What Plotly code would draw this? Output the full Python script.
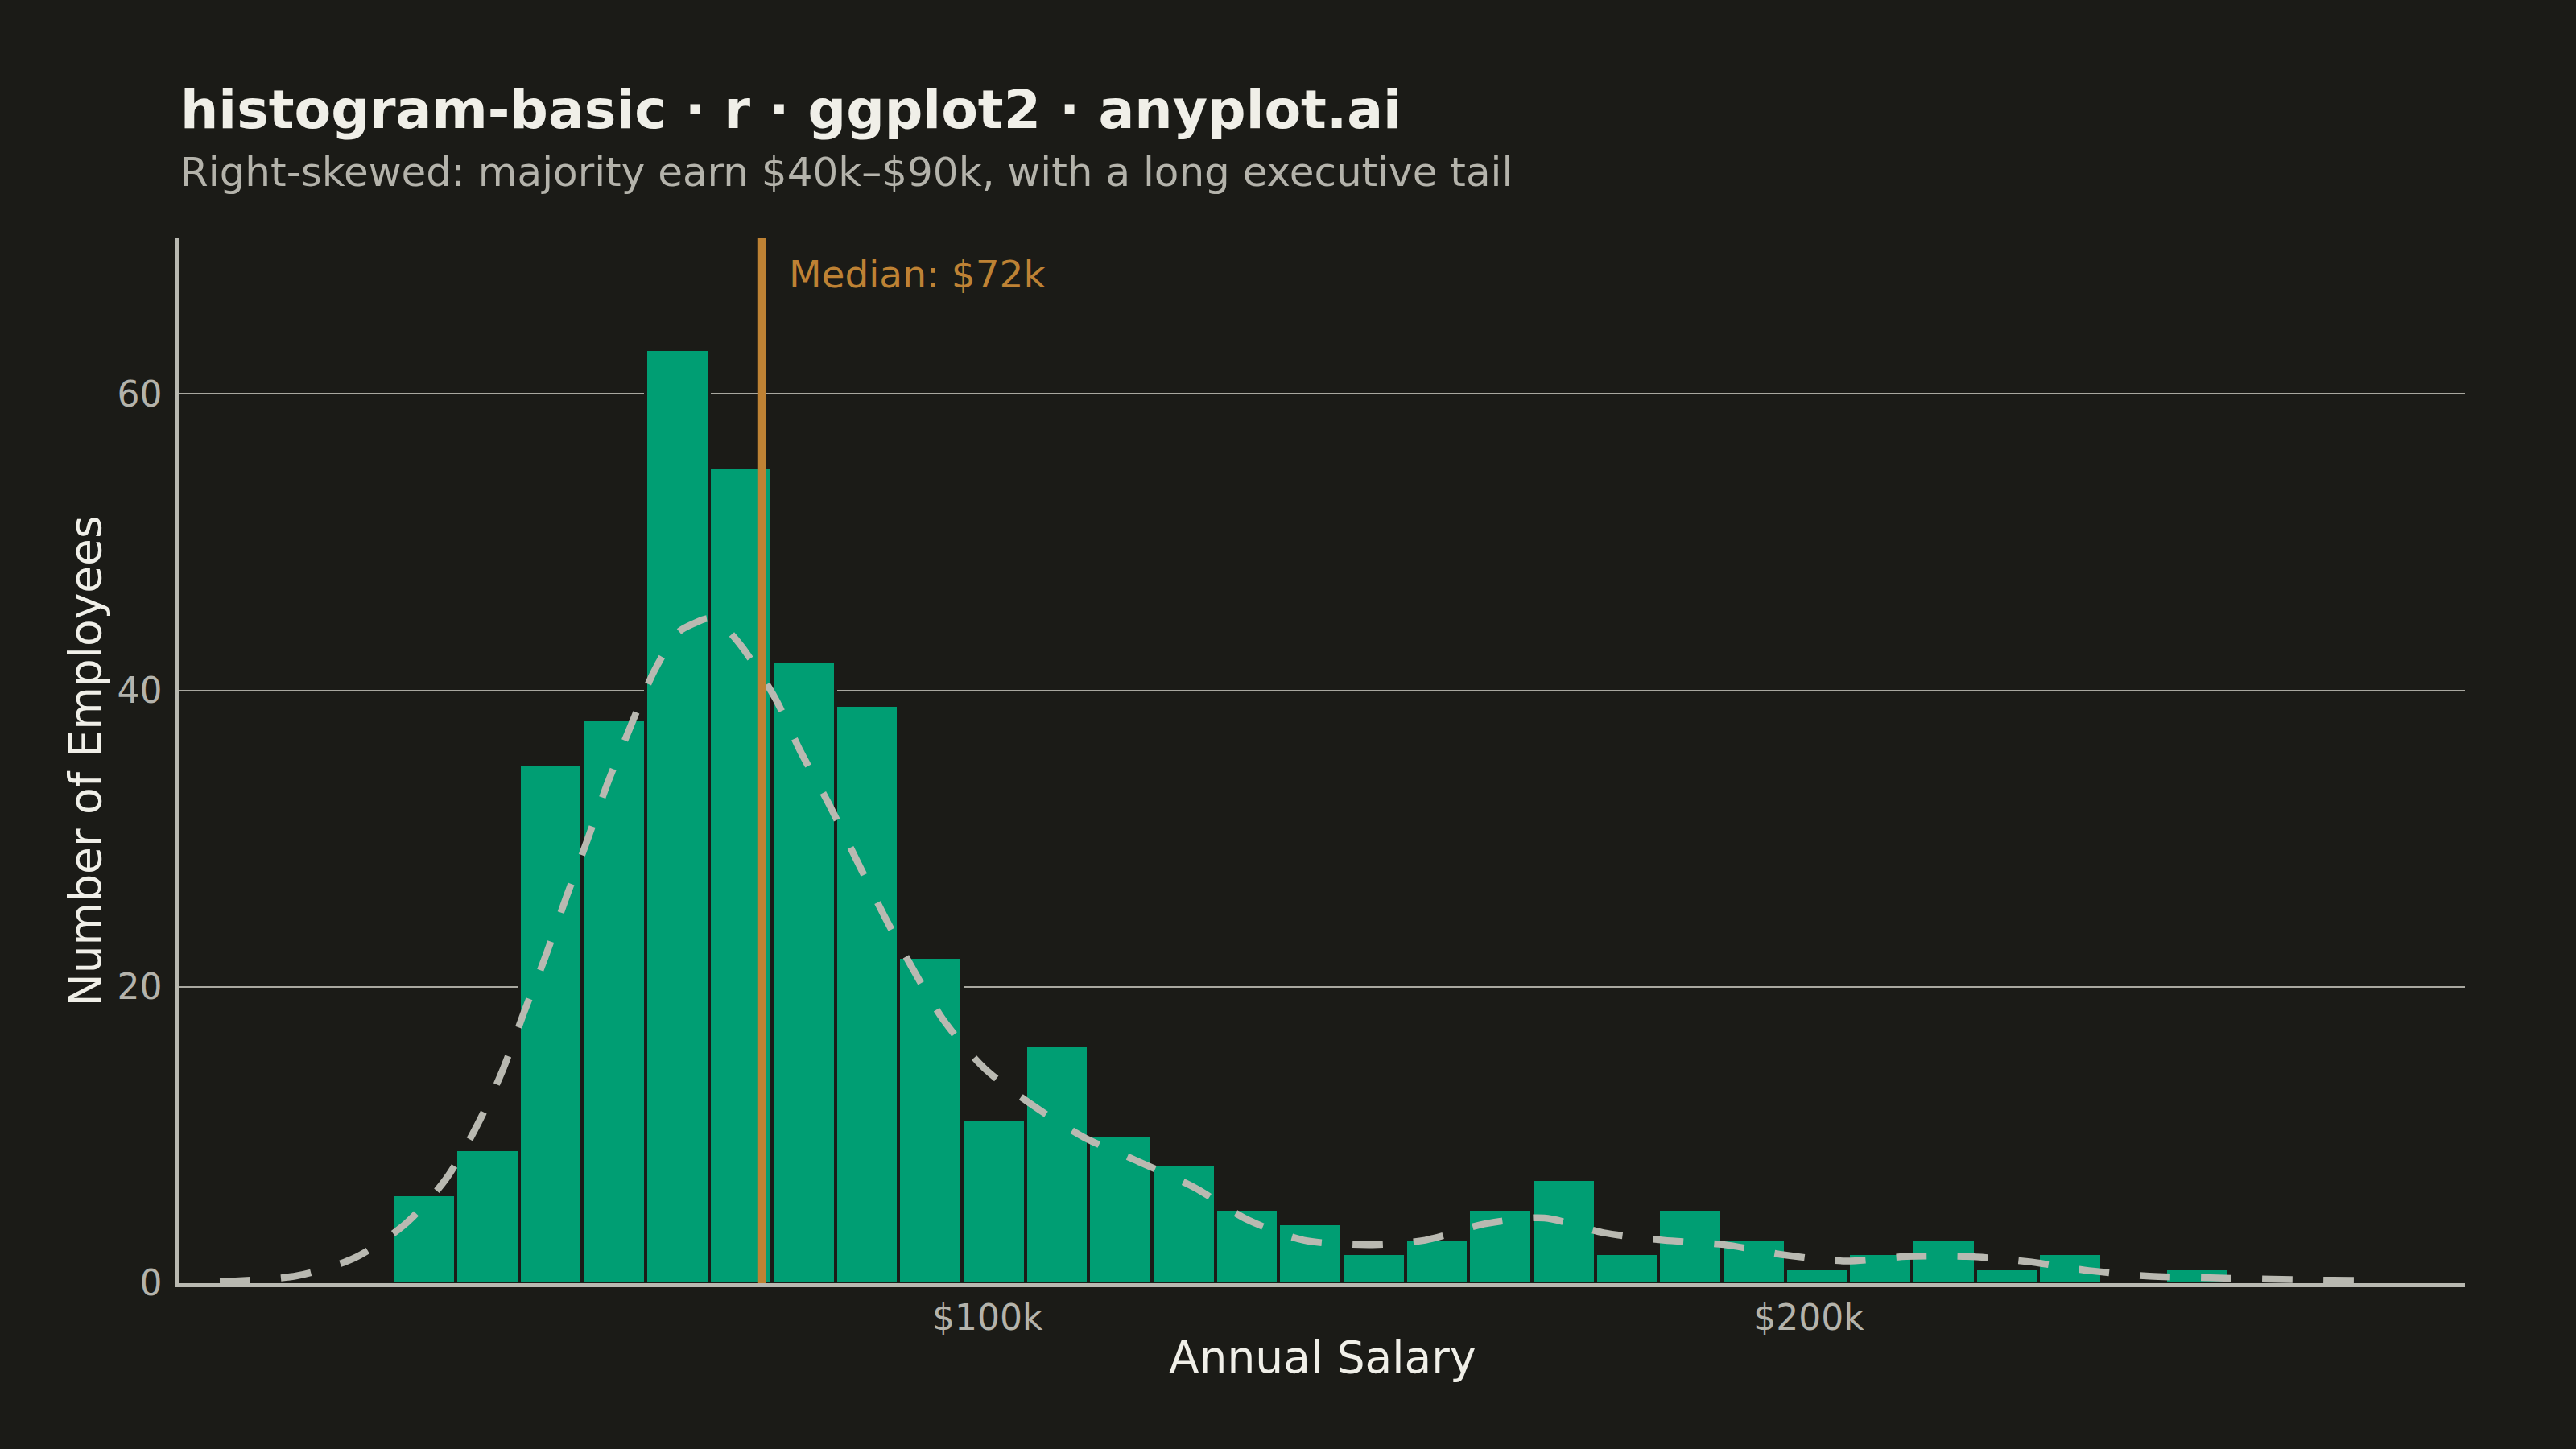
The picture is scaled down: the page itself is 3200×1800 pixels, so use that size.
import plotly.graph_objects as go

# --- data (salary in $k, counts of employees) ---
bin_centers = [31.36, 39.07, 46.78, 54.49, 62.20, 69.91, 77.62, 85.33, 93.04, 100.75,
               108.46, 116.17, 123.88, 131.59, 139.30, 147.01, 154.72, 162.43, 170.14, 177.85,
               185.56, 193.27, 200.98, 208.69, 216.40, 224.11, 231.82, 239.53, 247.24]
bin_width = 7.71
counts = [6, 9, 35, 38, 63, 55, 42, 39, 22, 11,
          16, 10, 8, 5, 4, 2, 3, 5, 7, 2,
          5, 3, 1, 2, 3, 1, 2, 0, 1]

density_x = [6.5, 8.4, 15.9, 22.9, 29.1, 34.0, 37.8, 40.9, 43.5, 46.2,
             48.6, 51.2, 53.7, 56.4, 59.4, 62.3, 64.2, 66.0, 67.5, 70.0,
             74.1, 77.2, 80.7, 84.1, 87.4, 90.9, 94.7, 99.6, 105.5, 111.7,
             118.4, 125.2, 131.6, 138.5, 146.9, 153.3, 160.5, 167.8, 175.0, 182.3,
             189.7, 197.1, 204.5, 211.9, 219.3, 226.7, 234.1, 241.5, 248.9, 256.3,
             263.8, 267.5]
density_y = [0.12, 0.15, 0.5, 1.7, 4.0, 7.0, 10.6, 14.3, 18.2, 22.1,
             25.9, 29.8, 33.7, 37.4, 41.3, 43.9, 44.5, 44.85, 44.5, 43.0,
             39.5, 35.9, 32.3, 28.5, 24.8, 21.2, 17.7, 14.5, 12.0, 9.85,
             8.2, 6.45, 4.3, 2.9, 2.6, 2.9, 4.0, 4.4, 3.4, 2.9,
             2.6, 1.9, 1.5, 1.8, 1.8, 1.45, 0.85, 0.47, 0.36, 0.27,
             0.2, 0.18]

median_salary = 72.5
median_label = "Median: $72k"
x_tickvals = [100, 200]
x_ticktext = ["$100k", "$200k"]
y_tickvals = [0, 20, 40, 60]

# --- colours ---
BG = "#1B1B17"
GREEN = "#009E73"
ORANGE = "#BE8234"
CURVE = "#B9B9B1"
INK = "#F0EFE8"
MUTED = "#B4B3AB"
FONT = "DejaVu Sans"

fig = go.Figure()

# histogram bars
fig.add_trace(go.Bar(
    x=bin_centers, y=counts, width=bin_width,
    marker=dict(color=GREEN, line=dict(color=BG, width=4)),
    showlegend=False,
))

# density curve scaled to counts
fig.add_trace(go.Scatter(
    x=density_x, y=density_y, mode="lines",
    line=dict(color=CURVE, width=8.5, dash="38px,38px", shape="spline", smoothing=0.8),
    showlegend=False,
))

# median line + label
fig.add_shape(
    type="line", xref="x", yref="paper",
    x0=median_salary, x1=median_salary, y0=0, y1=1,
    line=dict(color=ORANGE, width=11),
)
fig.add_annotation(
    x=median_salary, y=68.1, xref="x", yref="y",
    text=median_label, showarrow=False,
    xanchor="left", yanchor="middle", xshift=32,
    font=dict(family=FONT, size=47, color=ORANGE),
)

# title, subtitle, axis titles
fig.add_annotation(
    x=0, y=1.1233, xref="paper", yref="paper",
    text="<b>histogram-basic · r · ggplot2 · anyplot.ai</b>",
    showarrow=False, xanchor="left", yanchor="middle",
    font=dict(family=FONT, size=66.5, color=INK),
)
fig.add_annotation(
    x=0, y=1.0632, xref="paper", yref="paper",
    text="Right-skewed: majority earn $40k–$90k, with a long executive tail",
    showarrow=False, xanchor="left", yanchor="middle",
    font=dict(family=FONT, size=50, color=MUTED),
)
fig.add_annotation(
    x=0.5, y=-0.0711, xref="paper", yref="paper",
    text="Annual Salary", showarrow=False,
    xanchor="center", yanchor="middle",
    font=dict(family=FONT, size=55, color=INK),
)
fig.add_annotation(
    x=-0.0407, y=0.5, xref="paper", yref="paper",
    text="Number of Employees", showarrow=False, textangle=-90,
    xanchor="center", yanchor="middle",
    font=dict(family=FONT, size=55, color=INK),
)

fig.update_layout(
    width=3200, height=1800,
    margin=dict(l=222, r=138, t=296, b=206),
    paper_bgcolor=BG, plot_bgcolor=BG,
    bargap=0,
    font=dict(family=FONT, color=MUTED),
)

fig.update_xaxes(
    range=[1.5, 279.9],
    tickvals=x_tickvals, ticktext=x_ticktext,
    tickfont=dict(family=FONT, size=44, color=MUTED),
    ticks="", ticklen=0, ticklabelstandoff=0,
    showgrid=False, zeroline=False,
    showline=True, linecolor=CURVE, linewidth=4.5,
)
fig.update_yaxes(
    range=[0, 70.5],
    tickvals=y_tickvals,
    tickfont=dict(family=FONT, size=44, color=MUTED),
    ticks="", ticklen=0, ticklabelstandoff=7,
    showgrid=True, gridcolor="#A9A8A0", gridwidth=2.3,
    zeroline=False,
    showline=True, linecolor=CURVE, linewidth=4.5,
)

# page has a default body margin; drop it so the figure sits flush
fig.write_html(
    "out.html",
    config={"displayModeBar": False},
    post_script="document.body.style.margin='0';document.body.style.background='%s';" % BG,
)
